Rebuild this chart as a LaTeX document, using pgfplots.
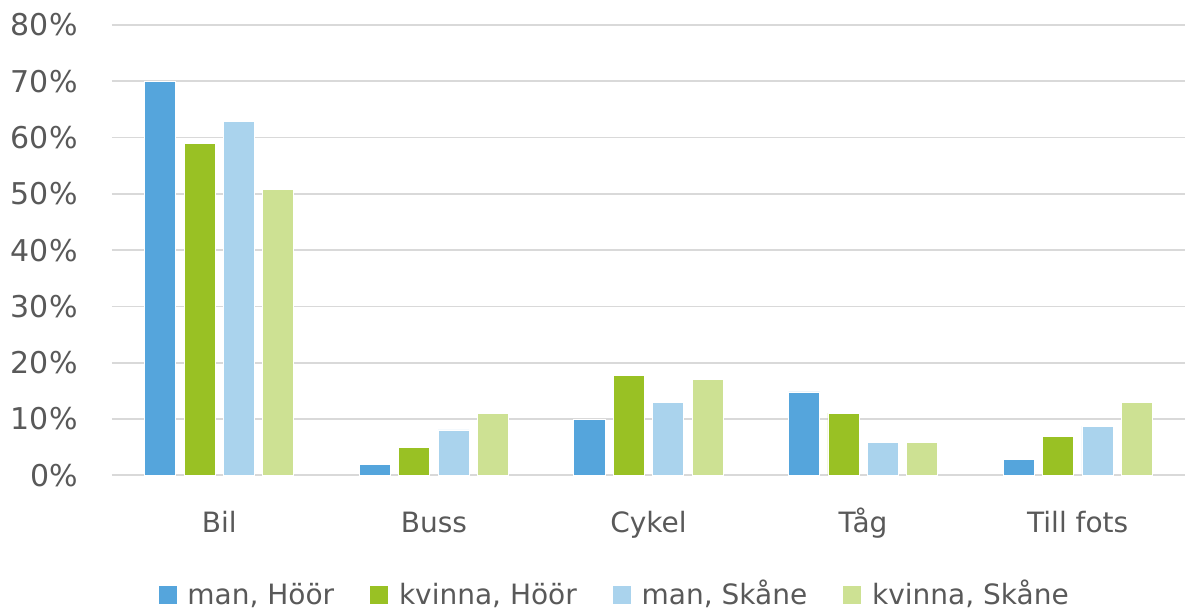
\documentclass[border=0pt]{standalone}
\usepackage{pgfplots}
\pgfplotsset{compat=1.18}
\usepackage{fontspec}
\setmainfont{DejaVu Sans}
\definecolor{cA}{HTML}{55A5DC}
\definecolor{cB}{HTML}{99C124}
\definecolor{cC}{HTML}{AAD3ED}
\definecolor{cD}{HTML}{CDE193}
\definecolor{txt}{HTML}{595959}
\definecolor{grid}{HTML}{D9D9D9}
\begin{document}
\begin{tikzpicture}[font=\fontsize{14pt}{17pt}\selectfont]
\begin{axis}[
  at={(0,0)}, anchor=south west,
  scale only axis, width=536.5pt, height=225.15pt,
  ybar=4.2pt, bar width=15.5pt,
  xmin=-0.5, xmax=4.5, ymin=0, ymax=80,
  xtick={0,1,2,3,4},
  xticklabels={Bil,Buss,Cykel,Tåg,Till fots},
  ytick={0,10,...,80},
  yticklabel={\pgfmathprintnumber{\tick}\%},
  /pgf/number format/assume math mode=true,
  axis line style={draw=none},
  axis x line*=bottom,
  x axis line style={draw=grid, line width=0.8pt},
  ymajorgrids, grid style={draw=grid, line width=0.8pt},
  major tick length=0pt, tick style={draw=none},
  ticklabel style={text=txt, font=\fontsize{14pt}{17pt}\selectfont},
  yticklabel style={anchor=east, inner sep=0pt, xshift=-17pt, font=\fontsize{15pt}{18pt}\selectfont},
  xticklabel style={anchor=base, inner sep=0pt, yshift=-28.5pt},
  legend columns=4,
  legend style={draw=none, fill=none, inner sep=0pt, outer sep=0pt,
    at={(axis description cs:0.0425,-0.262)}, anchor=west,
    text=txt, font=\fontsize{14pt}{17pt}\selectfont,
    /tikz/every even column/.append style={column sep=17.5pt},
    /tikz/every odd column/.append style={column sep=5pt},
    nodes={inner sep=0pt, anchor=base west}},
  legend image code/.code={\fill[#1] (0pt,0pt) rectangle (9.5pt,9.5pt);},
]
\addplot[fill=cA, draw=white, line width=0.4pt] coordinates {(0,70) (1,2.0) (2,9.9) (3,14.8) (4,2.85)};
\addplot[fill=cB, draw=white, line width=0.4pt] coordinates {(0,59) (1,5.0) (2,17.8) (3,11.05) (4,6.9)};
\addplot[fill=cC, draw=white, line width=0.4pt] coordinates {(0,62.8) (1,8.05) (2,12.9) (3,5.8) (4,8.75)};
\addplot[fill=cD, draw=white, line width=0.4pt] coordinates {(0,50.8) (1,11.05) (2,17.05) (3,5.8) (4,12.9)};
\legend{{man, Höör},{kvinna, Höör},{man, Skåne},{kvinna, Skåne}}
\end{axis}
\pgfresetboundingbox
\useasboundingbox (-56pt,-66.35pt) rectangle (536.5pt,237.65pt);
\end{tikzpicture}
\end{document}
